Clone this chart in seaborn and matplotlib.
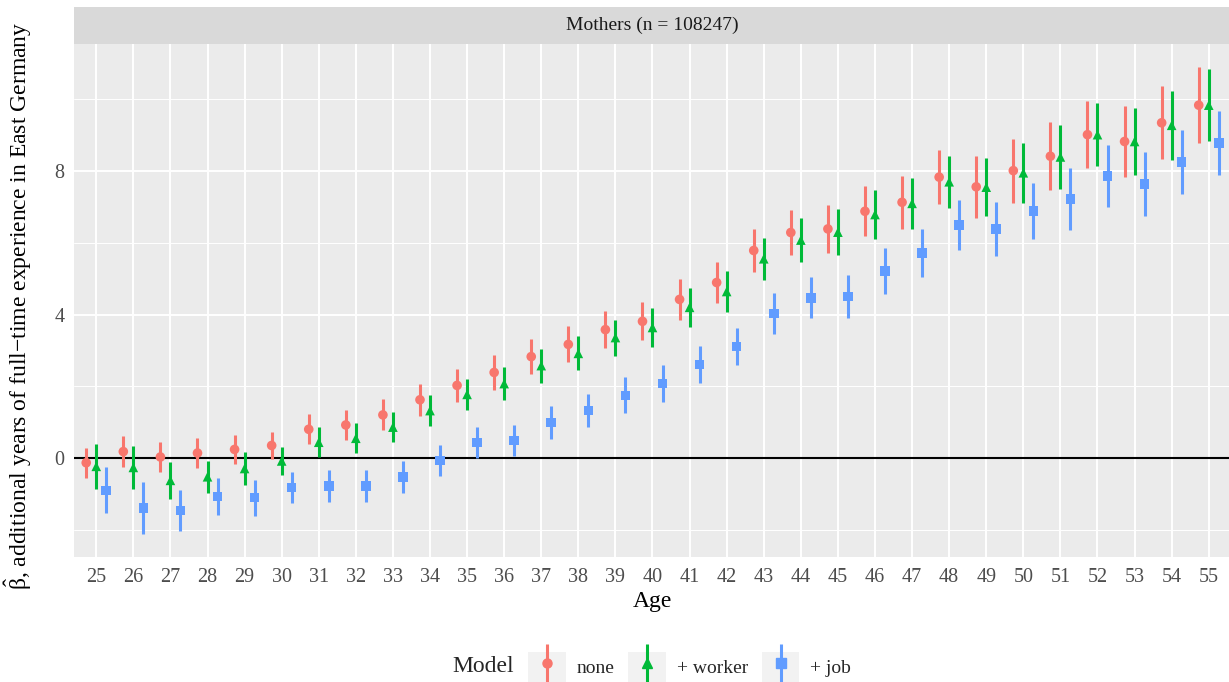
import numpy as np
import pandas as pd
import matplotlib
matplotlib.use("Agg")
import matplotlib.pyplot as plt
import seaborn as sns
from matplotlib.lines import Line2D
from matplotlib.patches import Patch
from matplotlib.legend_handler import HandlerTuple

# ---- data ----
ages = list(range(25, 56))

none_est = [-0.12, 0.19, 0.04, 0.15, 0.25, 0.36, 0.81, 0.93, 1.21, 1.63, 2.03,
            2.39, 2.83, 3.17, 3.58, 3.81, 4.42, 4.89, 5.78, 6.28, 6.38, 6.87,
            7.12, 7.82, 7.55, 8.00, 8.40, 9.00, 8.81, 9.33, 9.82]
none_hw = [0.42, 0.44, 0.42, 0.42, 0.40, 0.38, 0.42, 0.42, 0.43, 0.44, 0.46,
           0.49, 0.49, 0.50, 0.51, 0.53, 0.56, 0.57, 0.60, 0.63, 0.67, 0.69,
           0.74, 0.76, 0.87, 0.89, 0.94, 0.93, 0.99, 1.01, 1.05]

worker_est = [-0.22, -0.25, -0.61, -0.51, -0.28, -0.07, 0.45, 0.56, 0.87, 1.33, 1.78,
              2.08, 2.58, 2.92, 3.36, 3.64, 4.20, 4.64, 5.55, 6.07, 6.29, 6.78,
              7.09, 7.69, 7.54, 7.94, 8.38, 9.00, 8.81, 9.26, 9.82]
worker_hw = [0.62, 0.59, 0.52, 0.45, 0.45, 0.40, 0.41, 0.42, 0.41, 0.42, 0.43,
             0.45, 0.47, 0.47, 0.50, 0.53, 0.54, 0.56, 0.58, 0.62, 0.63, 0.68,
             0.71, 0.73, 0.81, 0.84, 0.89, 0.88, 0.94, 0.96, 1.00]

job_est = [-0.89, -1.37, -1.45, -1.06, -1.09, -0.81, -0.76, -0.76, -0.51, -0.06, 0.44,
           0.50, 1.00, 1.33, 1.75, 2.08, 2.61, 3.11, 4.03, 4.46, 4.50, 5.21,
           5.71, 6.49, 6.38, 6.88, 7.21, 7.85, 7.63, 8.24, 8.77]
job_hw = [0.64, 0.72, 0.57, 0.52, 0.50, 0.44, 0.44, 0.44, 0.45, 0.43, 0.42,
          0.44, 0.47, 0.47, 0.50, 0.51, 0.51, 0.52, 0.57, 0.57, 0.59, 0.63,
          0.66, 0.69, 0.75, 0.79, 0.85, 0.85, 0.88, 0.89, 0.90]

models = ["none", "+ worker", "+ job"]
colors = {"none": "#F8766D", "+ worker": "#00BA38", "+ job": "#619CFF"}
markers = {"none": "o", "+ worker": "^", "+ job": "s"}
dodge = {"none": -0.27, "+ worker": 0.0, "+ job": 0.27}

frames = []
for m, est, hw in zip(models, [none_est, worker_est, job_est], [none_hw, worker_hw, job_hw]):
    d = pd.DataFrame({"age": ages, "est": est, "hw": hw})
    d["model"] = m
    frames.append(d)
df = pd.concat(frames, ignore_index=True)
df["lo"] = df["est"] - df["hw"]
df["hi"] = df["est"] + df["hw"]
df["xpos"] = df["age"] + df["model"].map(dodge)

# ---- style (ggplot grey theme look) ----
sns.set_theme(style="darkgrid", rc={
    "axes.facecolor": "#EBEBEB",
    "grid.color": "white",
    "axes.edgecolor": "#EBEBEB",
})
plt.rcParams["font.family"] = ["Liberation Serif", "DejaVu Serif"]
plt.rcParams["mathtext.fontset"] = "custom"
plt.rcParams["mathtext.rm"] = "Liberation Serif"
plt.rcParams["mathtext.it"] = "Liberation Serif"

W, H = 1229, 682
fig = plt.figure(figsize=(W / 100, H / 100), dpi=100)
left, right, top, bottom = 74, 1231, 44, 557
ax = fig.add_axes([left / W, (H - bottom) / H, (right - left) / W, (bottom - top) / H])

# error bars
for m in models:
    sub = df[df["model"] == m]
    ax.vlines(sub["xpos"], sub["lo"], sub["hi"], color=colors[m], lw=2.2, zorder=3)

sns.scatterplot(data=df, x="xpos", y="est", hue="model", style="model",
                palette=colors, markers=markers, hue_order=models, style_order=models,
                s=48, linewidth=0, ax=ax, legend=False, zorder=4)

ax.axhline(0, color="black", lw=1.5, zorder=2)

ax.set_xlim(24.4, 55.6)
ax.set_ylim(-2.74, 11.52)
ax.set_xticks(ages)
ax.set_xticklabels([str(a) for a in ages])
ax.set_yticks([0, 4, 8])
ax.set_yticks([-2, 2, 6, 10], minor=True)
ax.grid(which="major", color="white", lw=1.4)
ax.grid(which="minor", axis="y", color="white", lw=0.7)
ax.tick_params(axis="both", which="major", length=4, width=1.1, color="#333333",
               labelcolor="#4D4D4D", labelsize=14.5, pad=3, direction="out")
ax.tick_params(axis="x", which="major", pad=4)
ax.tick_params(axis="both", which="minor", length=0)
for s in ax.spines.values():
    s.set_visible(False)

ax.set_xlabel("Age", fontsize=17, color="black")
ax.xaxis.set_label_coords(0.5, -0.066)
ax.set_ylabel("$\\hat{\\beta}$, additional years of full\u2212time experience in East Germany",
              fontsize=17, color="black")
ax.yaxis.set_label_coords(-40 / (right - left), 0.49)

# facet strip
strip = fig.add_axes([left / W, (H - top) / H, (right - left) / W, (top - 7) / H])
strip.set_facecolor("#D9D9D9")
strip.set_xticks([])
strip.set_yticks([])
for s in strip.spines.values():
    s.set_visible(False)
strip.text((652 - left) / (right - left), 0.5, "Mothers (n = 108247)", ha="center", va="center",
           fontsize=14, color="#1A1A1A", transform=strip.transAxes)

# legend at bottom
handles = []
for m in models:
    handles.append((Patch(facecolor="#F2F2F2", edgecolor="none"),
                    Line2D([], [], marker="|", markersize=27, mew=2.2, color=colors[m], ls="None"),
                    Line2D([], [], marker=markers[m], markersize=6.5, color=colors[m], ls="None")))
fig.text(452 / W, (H - 667) / H, "Model", fontsize=17, ha="left", va="center")
fig.legend(handles, models, handler_map={tuple: HandlerTuple(ndivide=1, pad=0)},
           loc="center left", bbox_to_anchor=(528 / W, (H - 667) / H), ncol=3,
           frameon=False, fontsize=14, borderpad=0, borderaxespad=0,
           handlelength=1.95, handleheight=1.95, handletextpad=0.55, columnspacing=0.7)

fig.savefig("out.png", dpi=100)
